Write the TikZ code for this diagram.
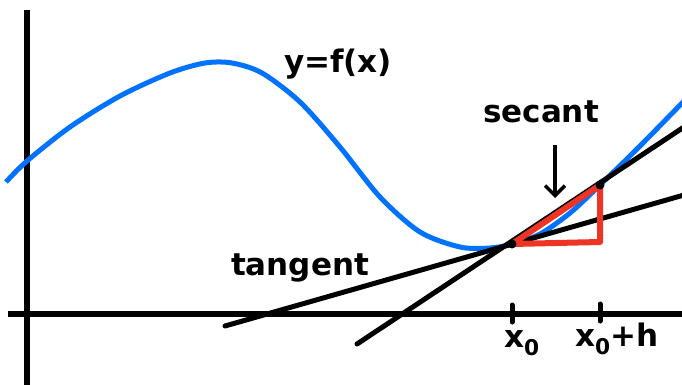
\documentclass[tikz,border=0pt]{standalone}
\usepackage{fontspec}
\setmainfont{DejaVu Sans}
\usetikzlibrary{arrows.meta}
\begin{document}
\begin{tikzpicture}[x=1pt,y=-1pt,
  axis/.style={line width=6.5pt},
  blk/.style={line width=5pt, line cap=round},
  curve/.style={line width=5pt, draw={rgb,255:red,0;green,114;blue,255}},
  redl/.style={line width=6pt, draw={rgb,255:red,238;green,52;blue,36}, line join=round},
  lbl/.style={font=\fontsize{31}{33}\selectfont\bfseries, inner sep=0pt},
  pt/.style={circle, fill=black, inner sep=0pt, minimum size=9pt}]
\useasboundingbox (0,0) rectangle (682,385);
% axes
\coordinate (yt) at (27,10);
\coordinate (yb) at (27,385);
\coordinate (xl) at (8,314);
\coordinate (xr) at (682,314);
\draw[axis] (yt) -- (yb);
\draw[axis] (xl) -- (xr);
% curve
\draw[curve] plot[smooth, tension=0.5] coordinates {(6,182) (27,161) (70,127) (120,96) (170,73) (205,63) (232,63) (262,73) (300,102) (340,147) (380,197) (420,232) (460,247) (490,248) (512,244) (540,234) (570,213) (600,185) (640,146) (684,101)};
% points
\coordinate (P) at (512,244);
\coordinate (Q) at (600,185);
\coordinate (R) at (600,242);
% tangent and secant
\coordinate (t1) at (225,326);
\coordinate (t2) at (684,195);
\coordinate (s1) at (357,344);
\coordinate (s2) at (684,127);
\draw[blk] (t1) -- (t2);
\draw[blk] (s1) -- (s2);
% red triangle
\draw[redl] (P) -- (Q) -- (R) -- cycle;
\node[pt] (p0) at (P) {};
\node[pt] (q0) at (Q) {};
% ticks
\coordinate (k1a) at (512,305); \coordinate (k1b) at (512,322);
\coordinate (k2a) at (600,304); \coordinate (k2b) at (600,321);
\draw[blk] (k1a) -- (k1b);
\draw[blk] (k2a) -- (k2b);
% labels
\node[lbl] (fx) at (338,64) {y=f(x)};
\node[lbl] (sec) at (541,112) {secant};
\node[lbl] (tan) at (300,268) {tangent};
\node[lbl] (x0) at (522,343) {x\textsubscript{0}};
\node[lbl] (x0h) at (617,339) {x\textsubscript{0}+h};
% arrow
\coordinate (a1) at (555,145);
\coordinate (a2) at (555,198);
\draw[line width=3.5pt, -{Straight Barb[length=10pt,width=20pt]}] (a1) -- (a2);
\end{tikzpicture}
\end{document}
